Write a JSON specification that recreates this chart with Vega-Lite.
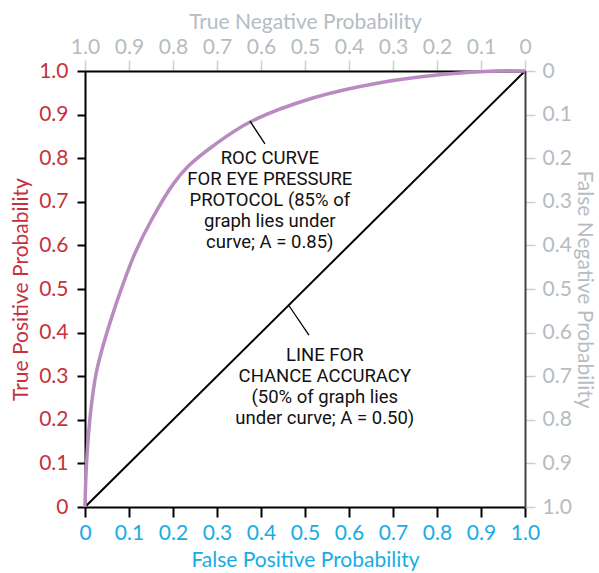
{
  "$schema": "https://vega.github.io/schema/vega-lite/v6.json",
  "width": 440,
  "height": 436,
  "autosize": {"type": "none"},
  "padding": {"left": 85, "top": 71, "right": 74, "bottom": 66},
  "background": "white",
  "config": {
    "view": {"stroke": null},
    "axis": {"grid": false, "titleFontWeight": "normal", "labelFont": "Lato", "titleFont": "Lato", "labelFontSize": 21, "titleFontSize": 21, "labelFlush": false, "labelOverlap": false}
  },
  "datasets": {
    "roc": [
      {"fpr": 0.0, "tpr": 0.0},
      {"fpr": 0.001, "tpr": 0.04},
      {"fpr": 0.003, "tpr": 0.09},
      {"fpr": 0.007, "tpr": 0.154},
      {"fpr": 0.014, "tpr": 0.229},
      {"fpr": 0.025, "tpr": 0.305},
      {"fpr": 0.04, "tpr": 0.366},
      {"fpr": 0.061, "tpr": 0.436},
      {"fpr": 0.086, "tpr": 0.51},
      {"fpr": 0.114, "tpr": 0.583},
      {"fpr": 0.152, "tpr": 0.66},
      {"fpr": 0.2, "tpr": 0.74},
      {"fpr": 0.235, "tpr": 0.782},
      {"fpr": 0.291, "tpr": 0.828},
      {"fpr": 0.375, "tpr": 0.883},
      {"fpr": 0.518, "tpr": 0.938},
      {"fpr": 0.67, "tpr": 0.973},
      {"fpr": 0.823, "tpr": 0.993},
      {"fpr": 0.93, "tpr": 1.0},
      {"fpr": 1.0, "tpr": 1.0}
    ],
    "chance": [
      {"fpr": 0.0, "tpr": 0.0},
      {"fpr": 1.0, "tpr": 1.0}
    ],
    "leaders": [
      {"x1": 0.375, "y1": 0.885, "x2": 0.409, "y2": 0.833},
      {"x1": 0.464, "y1": 0.461, "x2": 0.509, "y2": 0.394}
    ],
    "notes": [
      {"x": 0.42, "y": 0.8, "label": ["ROC CURVE", "FOR EYE PRESSURE", "PROTOCOL (85% of", "graph lies under", "curve;  A = 0.85)"]},
      {"x": 0.545, "y": 0.349, "label": ["LINE FOR", "CHANCE ACCURACY", "(50% of graph lies", "under curve;  A = 0.50)"]}
    ]
  },
  "layer": [
    {
      "data": {"name": "chance"},
      "mark": {"type": "line", "color": "black", "strokeWidth": 2},
      "encoding": {
        "x": {"field": "fpr", "type": "quantitative", "scale": {"domain": [0, 1], "nice": false},
          "axis": {"orient": "bottom", "title": "False Positive Probability", "values": [0,0.1,0.2,0.3,0.4,0.5,0.6,0.7,0.8,0.9,1],
            "labelExpr": "datum.value == 0 ? '0' : format(datum.value, '.1f')",
            "labelColor": "#17ace4", "titleColor": "#17ace4", "domainColor": "black", "domainWidth": 2,
            "tickColor": "black", "tickWidth": 2, "tickSize": 10, "labelPadding": 5, "titlePadding": 6}},
        "y": {"field": "tpr", "type": "quantitative", "scale": {"domain": [0, 1], "nice": false},
          "axis": {"orient": "left", "title": "True Positive Probability", "values": [0,0.1,0.2,0.3,0.4,0.5,0.6,0.7,0.8,0.9,1],
            "labelExpr": "datum.value == 0 ? '0' : format(datum.value, '.1f')",
            "labelColor": "#c5323b", "titleColor": "#c5323b", "domainColor": "black", "domainWidth": 2,
            "tickColor": "black", "tickWidth": 2, "tickSize": 8, "labelPadding": 9, "titlePadding": 7}}
      }
    },
    {
      "data": {"name": "roc"},
      "mark": {"type": "line", "color": "#b98bc1", "strokeWidth": 3.5, "interpolate": "catmull-rom"},
      "encoding": {
        "x": {"field": "fpr", "type": "quantitative", "scale": {"domain": [0, 1], "nice": false},
          "axis": {"orient": "top", "title": "True Negative Probability", "values": [0,0.1,0.2,0.3,0.4,0.5,0.6,0.7,0.8,0.9,1],
            "labelExpr": "datum.value == 1 ? '0' : format(1 - datum.value, '.1f')",
            "labelColor": "#b5bcc2", "titleColor": "#b5bcc2", "domainColor": "black", "domainWidth": 2,
            "tickColor": "#c9ced2", "tickWidth": 1.5, "tickSize": 11, "labelPadding": 3, "titlePadding": 4}},
        "y": {"field": "tpr", "type": "quantitative", "scale": {"domain": [0, 1], "nice": false},
          "axis": {"orient": "right", "title": "False Negative Probability", "values": [0,0.1,0.2,0.3,0.4,0.5,0.6,0.7,0.8,0.9,1],
            "labelExpr": "datum.value == 1 ? '0' : format(1 - datum.value, '.1f')",
            "labelColor": "#b5bcc2", "titleColor": "#b5bcc2", "domainColor": "#444444", "domainWidth": 2,
            "tickColor": "#c9ced2", "tickWidth": 1.5, "tickSize": 10, "labelPadding": 7, "titlePadding": 2}}
      }
    },
    {
      "data": {"name": "leaders"},
      "mark": {"type": "rule", "color": "black", "strokeWidth": 1.3},
      "encoding": {
        "x": {"field": "x1", "type": "quantitative", "scale": {"domain": [0, 1], "nice": false}, "axis": null},
        "y": {"field": "y1", "type": "quantitative", "scale": {"domain": [0, 1], "nice": false}, "axis": null},
        "x2": {"field": "x2"},
        "y2": {"field": "y2"}
      }
    },
    {
      "data": {"name": "notes"},
      "mark": {"type": "text", "align": "center", "baseline": "middle", "font": "Roboto", "fontSize": 18.5, "lineHeight": 21, "color": "#111111"},
      "encoding": {
        "x": {"field": "x", "type": "quantitative", "scale": {"domain": [0, 1], "nice": false}, "axis": null},
        "y": {"field": "y", "type": "quantitative", "scale": {"domain": [0, 1], "nice": false}, "axis": null},
        "text": {"field": "label"}
      }
    }
  ],
  "resolve": {"axis": {"x": "independent", "y": "independent"}}
}
